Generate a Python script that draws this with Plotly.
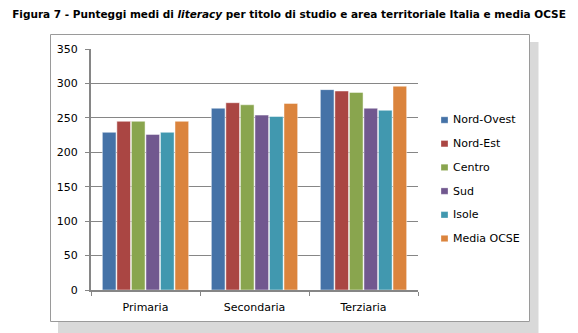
import plotly.graph_objects as go

categories = ["Primaria", "Secondaria", "Terziaria"]
series_names = ["Nord-Ovest", "Nord-Est", "Centro", "Sud", "Isole", "Media OCSE"]
nord_ovest = [229, 264, 291]
nord_est = [245, 272, 289]
centro = [245, 269, 287]
sud = [226, 254, 264]
isole = [229, 252, 261]
media_ocse = [245, 271, 296]
series_values = [nord_ovest, nord_est, centro, sud, isole, media_ocse]
colors = ["#4572A7", "#AA4643", "#89A54E", "#71588F", "#4198AF", "#DB843D"]
y_ticks = [0, 50, 100, 150, 200, 250, 300, 350]

W, H = 578, 333
L, R, T, B = 91, 418, 49, 290

def px_x(p):
    return (p - L) / (R - L)

def px_y(p):
    return (B - p) / (B - T)

fig = go.Figure()
for name, vals, col in zip(series_names, series_values, colors):
    fig.add_trace(go.Bar(
        x=categories, y=vals, name=name,
        marker=dict(color=col, line=dict(color="rgba(255,255,255,0.6)", width=0.8)),
    ))

font = "DejaVu Sans"
shapes = [
    # shadow
    dict(type="rect", xref="paper", yref="paper", layer="below",
         x0=px_x(58), x1=px_x(538.5), y0=px_y(333), y1=px_y(322),
         fillcolor="#D9D9D9", line=dict(width=0)),
    dict(type="rect", xref="paper", yref="paper", layer="below",
         x0=px_x(530), x1=px_x(538.5), y0=px_y(322), y1=px_y(42),
         fillcolor="#D9D9D9", line=dict(width=0)),
    # frame
    dict(type="rect", xref="paper", yref="paper", layer="below",
         x0=px_x(50.5), x1=px_x(529.5), y0=px_y(321.5), y1=px_y(34.5),
         fillcolor="white", line=dict(color="#9A9A9A", width=1)),
]

annotations = []
# legend (drawn manually to match small square keys)
for i, (name, col) in enumerate(zip(series_names, colors)):
    cy = 120 + 23.7 * i
    shapes.append(dict(
        type="rect", xref="paper", yref="paper",
        x0=px_x(441), x1=px_x(448), y0=px_y(cy + 3.2), y1=px_y(cy - 3.2),
        fillcolor=col, line=dict(color="rgba(255,255,255,0.5)", width=0.6),
    ))
    annotations.append(dict(
        x=px_x(450.5), y=px_y(cy), xref="paper", yref="paper",
        text=name, showarrow=False, xanchor="left", yanchor="middle",
        font=dict(family=font, size=11, color="black"),
    ))

fig.update_layout(
    width=W, height=H,
    margin=dict(l=L, r=W - R, t=T, b=H - B, pad=0),
    paper_bgcolor="white", plot_bgcolor="white",
    barmode="group", bargap=0.2, bargroupgap=0.06,
    shapes=shapes, annotations=annotations,
    title=dict(
        text="Figura 7 - Punteggi medi di <i>literacy</i> per titolo di studio e area territoriale Italia e media OCSE",
        x=0.5, xref="container", xanchor="center",
        y=1 - 14 / H, yref="container", yanchor="middle",
        font=dict(family=font, size=10.5, color="black", weight="bold"),
    ),
    font=dict(family=font, size=11, color="black"),
    showlegend=False,
    xaxis=dict(
        showline=True, linecolor="#868686", linewidth=2,
        ticks="outside", tickson="boundaries", ticklen=4, tickcolor="#868686",
        tickfont=dict(family=font, size=11, color="black"),
        showgrid=False, fixedrange=True,
        ticklabelstandoff=6,
    ),
    yaxis=dict(
        range=[0, 350], tickvals=y_ticks,
        showline=True, linecolor="#868686", linewidth=2,
        ticks="outside", ticklen=4, tickcolor="#868686",
        showgrid=True, gridcolor="#868686", gridwidth=1,
        zeroline=False,
        tickfont=dict(family=font, size=11, color="black"),
        ticklabelstandoff=5,
    ),
)

fig.write_html("out.html")
